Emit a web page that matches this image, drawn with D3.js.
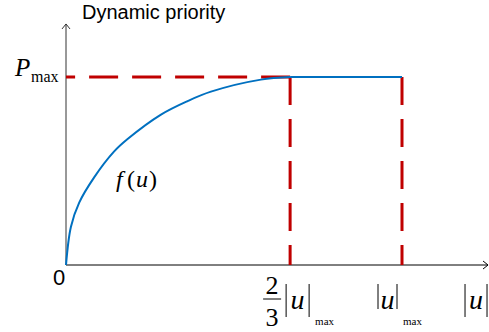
<!DOCTYPE html>
<html>
<head>
<meta charset="utf-8">
<script src="https://cdn.jsdelivr.net/npm/d3@7"></script>
<style>
  body { margin: 0; background: #fff; }
  text { fill: #000; }
</style>
</head>
<body>
<div id="chart"></div>
<script>
// values (u in units of |u|max, priority in units of Pmax)
const curveU = [0, 0.0147, 0.0393, 0.0833, 0.1427, 0.1833, 0.2827, 0.362, 0.4313, 0.58, 0.667];
const curveP = [0, 0.204, 0.332, 0.465, 0.603, 0.67, 0.8, 0.872, 0.922, 0.986, 1.0];
const uKnee = 0.667;
const uMax = 1.0;
const pMax = 1.0;
const axisEnd = [1.256, 1.282];
const yTitle = 'Dynamic priority';

const width = 489, height = 332;
const x = d3.scaleLinear().domain([0, 1]).range([66, 402]);
const y = d3.scaleLinear().domain([0, 1]).range([265, 77]);

const svg = d3.select('#chart').append('svg')
  .attr('width', width).attr('height', height);

const red = '#c00000', blue = '#0070c0';
const serif = '"Liberation Serif", "Times New Roman", serif';

// axes with open arrow heads
svg.append('path')
  .attr('d', `M${x(0)},${y(0)}H${x(axisEnd[0])}M${x(axisEnd[0]) - 5},${y(0) - 4}L${x(axisEnd[0])},${y(0)}L${x(axisEnd[0]) - 5},${y(0) + 4}`)
  .attr('fill', 'none').attr('stroke', '#000').attr('stroke-width', 1);
svg.append('path')
  .attr('d', `M${x(0)},${y(0)}V${y(axisEnd[1])}M${x(0) - 4},${y(axisEnd[1]) + 5}L${x(0)},${y(axisEnd[1])}L${x(0) + 4},${y(axisEnd[1]) + 5}`)
  .attr('fill', 'none').attr('stroke', '#333').attr('stroke-width', 1);

// dashed guides
const guide = svg.append('g').attr('fill', 'none').attr('stroke', red).attr('stroke-width', 3);
guide.append('line')
  .attr('x1', x(uKnee)).attr('y1', y(pMax)).attr('x2', x(0)).attr('y2', y(pMax))
  .attr('stroke-dasharray', '29,14');
[uKnee, uMax].forEach(u => {
  guide.append('line')
    .attr('x1', x(u)).attr('y1', y(pMax)).attr('x2', x(u)).attr('y2', y(0))
    .attr('stroke-dasharray', '28,14');
});

// f(u) curve, then the flat part up to |u|max
const pts = curveU.map((u, i) => [u, curveP[i]]);
svg.append('path')
  .datum(pts)
  .attr('d', d3.line().x(d => x(d[0])).y(d => y(d[1])).curve(d3.curveCatmullRom.alpha(0.5)))
  .attr('fill', 'none').attr('stroke', blue).attr('stroke-width', 2);
svg.append('line')
  .attr('x1', x(uKnee)).attr('x2', x(uMax)).attr('y1', y(pMax)).attr('y2', y(pMax))
  .attr('stroke', blue).attr('stroke-width', 2);

// labels
svg.append('text')
  .attr('x', 82).attr('y', 19)
  .style('font', '20px "Liberation Sans", Arial, sans-serif')
  .text(yTitle);

svg.append('text')
  .attr('x', 15).attr('y', y(pMax) - 1)
  .style('font', `italic 25px ${serif}`)
  .text('P');
svg.append('text')
  .attr('x', 31).attr('y', y(pMax) + 5)
  .style('font', `16px ${serif}`)
  .text('max');

svg.append('text')
  .attr('x', x(0) - 7).attr('y', 285).attr('text-anchor', 'middle')
  .style('font', '22px "Liberation Sans", Arial, sans-serif')
  .text('0');

const fu = svg.append('text').attr('y', 187)
  .style('font', `24px ${serif}`);
fu.append('tspan').attr('x', 116).style('font-style', 'italic').text('f');
fu.append('tspan').attr('x', 127).text('(');
fu.append('tspan').attr('x', 136).style('font-style', 'italic').text('u');
fu.append('tspan').attr('x', 149).text(')');

// bottom tick labels
const kx = x(uKnee);
svg.append('text').attr('x', kx - 18).attr('y', 294).attr('text-anchor', 'middle')
  .style('font', `26px ${serif}`).text('2');
svg.append('line').attr('x1', kx - 27).attr('x2', kx - 9).attr('y1', 299).attr('y2', 299)
  .attr('stroke', '#000').attr('stroke-width', 1);
svg.append('text').attr('x', kx - 18).attr('y', 326).attr('text-anchor', 'middle')
  .style('font', `26px ${serif}`).text('3');

function absU(left, right, top, bottom, sub) {
  const g = svg.append('g');
  [left, right].forEach(bx => {
    g.append('line').attr('x1', bx).attr('x2', bx).attr('y1', top).attr('y2', bottom)
      .attr('stroke', '#000').attr('stroke-width', 1);
  });
  g.append('text').attr('x', (left + right) / 2).attr('y', 309).attr('text-anchor', 'middle')
    .style('font', `italic 28px ${serif}`).text('u');
  if (sub) {
    g.append('text').attr('x', right + 6).attr('y', 325)
      .style('font', `11px ${serif}`).text('max');
  }
}
absU(kx - 4, kx + 19, 284, 317, true);
absU(x(uMax) - 24, x(uMax) - 5, 284, 309, true);
absU(x(axisEnd[0]) - 23, x(axisEnd[0]) - 1, 284, 317, false);
</script>
</body>
</html>
